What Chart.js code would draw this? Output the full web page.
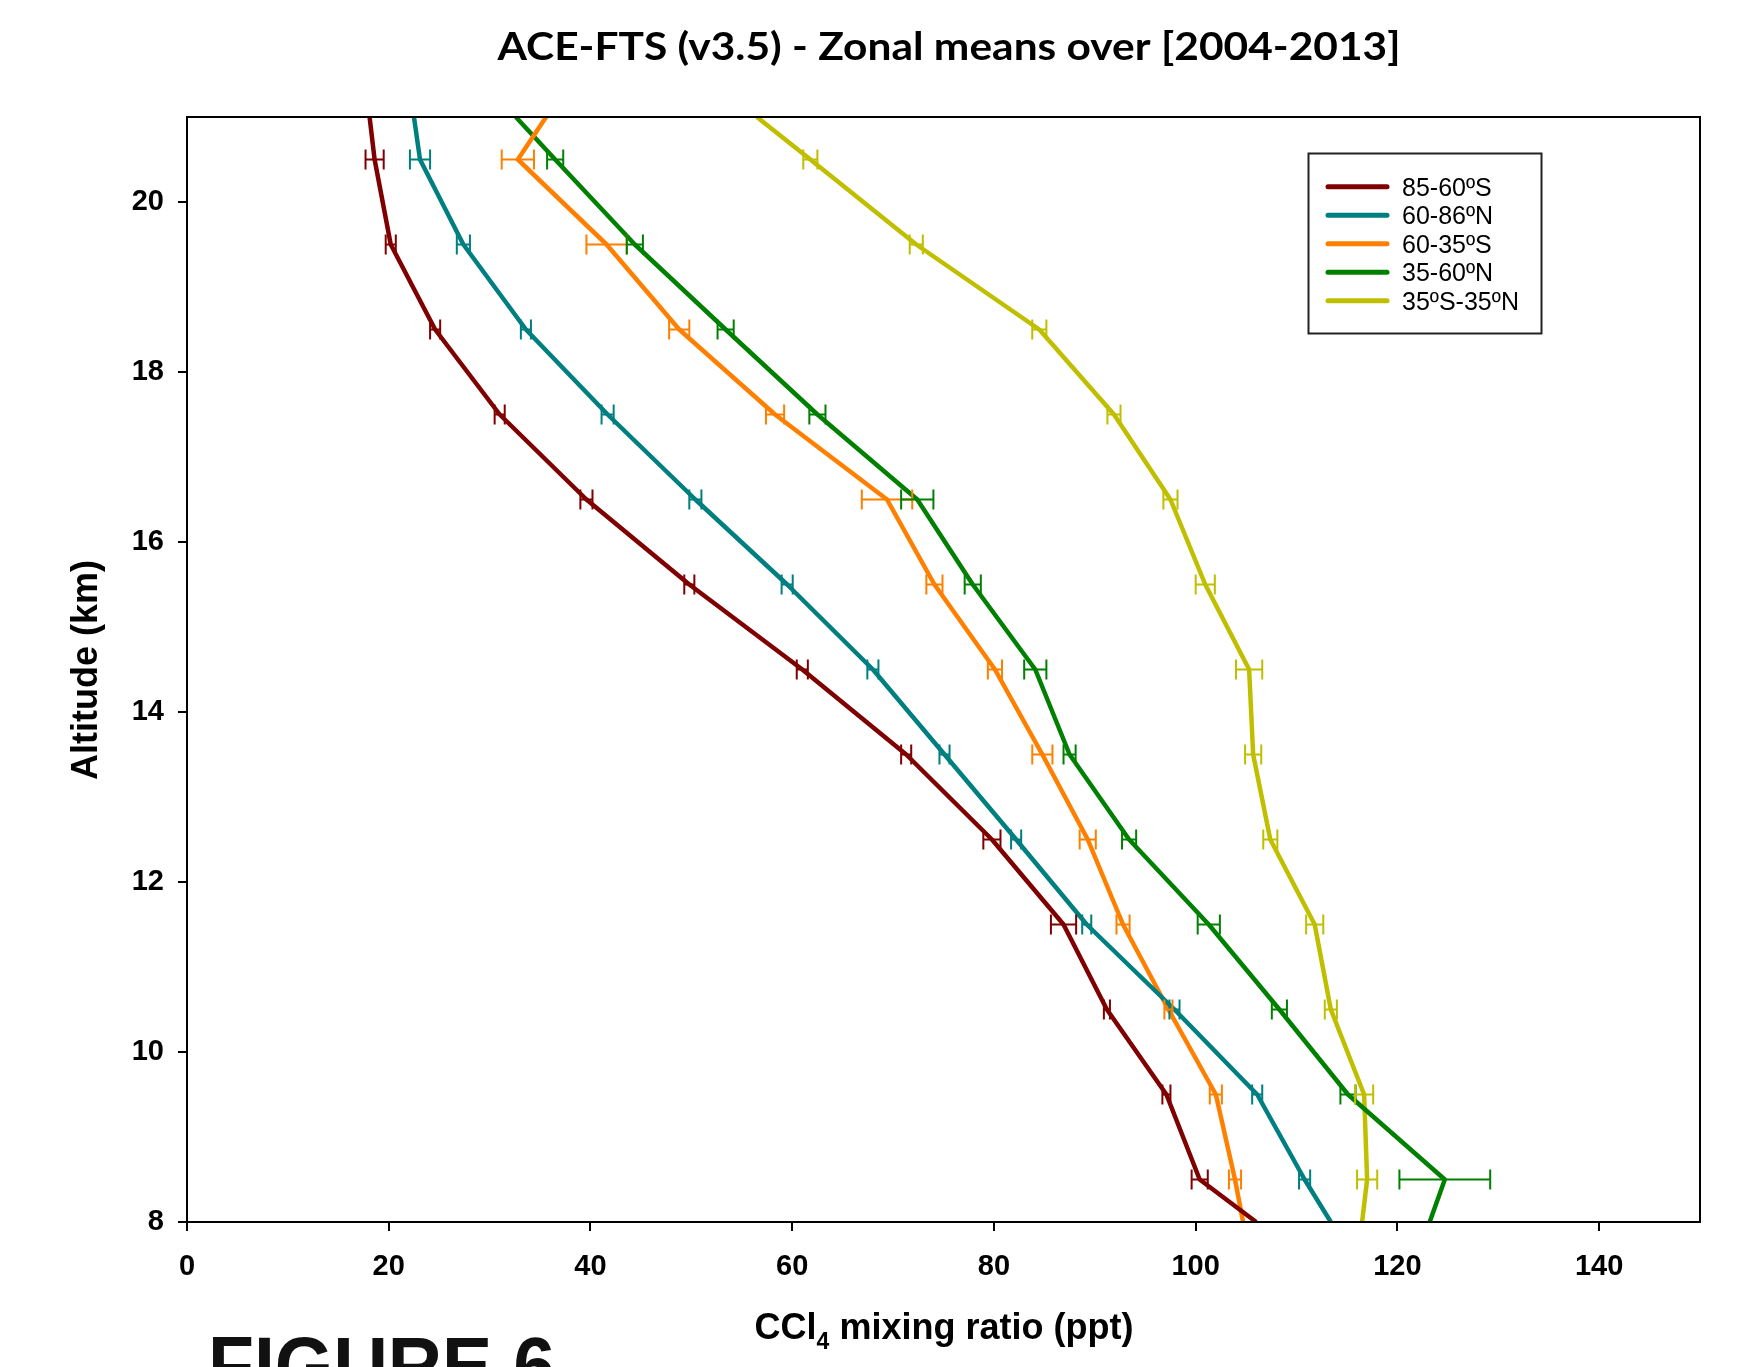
<!DOCTYPE html>
<html>
<head>
<meta charset="utf-8">
<title>ACE-FTS CCl4 zonal means</title>
<script src="https://cdn.jsdelivr.net/npm/chart.js@4.4.0/dist/chart.umd.min.js"></script>
<style>
    html, body { margin: 0; padding: 0; background: #fff; }
    canvas { display: block; }
</style>
</head>
<body>
<canvas id="perfil" width="1745" height="1367"></canvas>
<script>
// altitudes (km); first and last are where the profiles leave the frame
var altitudes = [8, 8.5, 9.5, 10.5, 11.5, 12.5, 13.5, 14.5, 15.5, 16.5, 17.5, 18.5, 19.5, 20.5, 21];

var labels = ['85-60ºS', '60-86ºN', '60-35ºS', '35-60ºN', '35ºS-35ºN'];
var colores = ['#7f0000', '#007f80', '#ff8000', '#008000', '#bfbf00'];

// CCl4 (ppt) and error bars (+/-)
var s85_60S = [106.0, 100.4, 97.1, 91.2, 86.9, 79.8, 71.3, 61.0, 49.8, 39.6, 31.0, 24.6, 20.2, 18.6, 18.1];
var e85_60S = [null, 0.8, 0.4, 0.3, 1.25, 0.85, 0.5, 0.55, 0.5, 0.6, 0.5, 0.5, 0.5, 0.9, null];

var s60_86N = [113.4, 110.8, 106.1, 97.9, 89.2, 82.2, 75.1, 68.0, 59.5, 50.4, 41.7, 33.6, 27.4, 23.1, 22.5];
var e60_86N = [null, 0.55, 0.5, 0.5, 0.45, 0.5, 0.5, 0.55, 0.55, 0.6, 0.6, 0.5, 0.65, 1.0, null];

var s60_35S = [104.7, 103.9, 102.0, 97.3, 92.8, 89.3, 84.8, 80.1, 74.1, 69.4, 58.3, 48.8, 41.6, 32.8, 35.6];
var e60_35S = [null, 0.6, 0.6, 0.4, 0.65, 0.8, 1.0, 0.7, 0.8, 2.5, 0.9, 1.0, 2.0, 1.6, null];

var s35_60N = [123.2, 124.7, 115.1, 108.3, 101.3, 93.4, 87.5, 84.1, 77.9, 72.4, 62.5, 53.4, 44.4, 36.5, 32.6];
var e35_60N = [null, 4.5, 0.75, 0.75, 1.1, 0.7, 0.6, 1.1, 0.8, 1.6, 0.8, 0.8, 0.8, 0.8, null];

var s35S_35N = [116.5, 117.0, 116.7, 113.4, 111.8, 107.4, 105.7, 105.3, 100.95, 97.5, 91.9, 84.5, 72.3, 61.8, 56.5];
var e35S_35N = [null, 1.0, 0.9, 0.6, 0.85, 0.7, 0.8, 1.3, 0.95, 0.7, 0.65, 0.7, 0.65, 0.7, null];

var series = [s85_60S, s60_86N, s60_35S, s35_60N, s35S_35N];
var errores = [e85_60S, e60_86N, e60_35S, e35_60N, e35S_35N];

var xTicks = [0, 20, 40, 60, 80, 100, 120, 140];
var yTicks = [8, 10, 12, 14, 16, 18, 20];

var fuenteEjes = '"Liberation Sans", Arial, sans-serif';

function armarDatasets() {
    var out = [];
    for (var i = 0; i < series.length; i++) {
        var puntos = [];
        for (var j = 0; j < altitudes.length; j++) {
            puntos.push({ x: series[i][j], y: altitudes[j] });
        }
        out.push({
            label: labels[i],
            data: puntos,
            errores: errores[i],
            borderColor: colores[i],
            backgroundColor: colores[i],
            borderWidth: 4.5,
            borderJoinStyle: 'round',
            pointRadius: 0,
            fill: false,
            tension: 0
        });
    }
    return out;
}

// horizontal error bars with caps
var barrasError = {
    id: 'barrasError',
    afterDatasetsDraw: function (chart) {
        var ctx = chart.ctx;
        var xs = chart.scales.x, ys = chart.scales.y;
        chart.data.datasets.forEach(function (ds) {
            ctx.save();
            ctx.strokeStyle = ds.borderColor;
            ctx.lineWidth = 2;
            ds.data.forEach(function (p, j) {
                var e = ds.errores[j];
                if (e == null) return;
                var x1 = xs.getPixelForValue(p.x - e);
                var x2 = xs.getPixelForValue(p.x + e);
                var y = ys.getPixelForValue(p.y);
                ctx.beginPath();
                ctx.moveTo(x1, y); ctx.lineTo(x2, y);
                ctx.moveTo(x1, y - 10); ctx.lineTo(x1, y + 10);
                ctx.moveTo(x2, y - 10); ctx.lineTo(x2, y + 10);
                ctx.stroke();
            });
            ctx.restore();
        });
    }
};

// frame, legend, titles
var decorado = {
    id: 'decorado',
    afterDraw: function (chart) {
        var ctx = chart.ctx;
        var a = chart.chartArea;
        ctx.save();
        ctx.strokeStyle = '#000';
        ctx.lineWidth = 2;
        ctx.strokeRect(a.left, a.top, a.right - a.left, a.bottom - a.top);

        // legend box
        ctx.strokeStyle = '#222';
        ctx.strokeRect(1308.5, 153.5, 233, 180);
        ctx.font = '25px ' + fuenteEjes;
        ctx.textBaseline = 'alphabetic';
        ctx.textAlign = 'left';
        chart.data.datasets.forEach(function (ds, i) {
            var y = 186.7 + i * 28.5;
            ctx.strokeStyle = ds.borderColor;
            ctx.lineWidth = 5;
            ctx.lineCap = 'round';
            ctx.beginPath();
            ctx.moveTo(1328, y); ctx.lineTo(1387, y);
            ctx.stroke();
            ctx.fillStyle = '#000';
            ctx.fillText(ds.label, 1402, y + 8.8);
        });

        // main title
        ctx.fillStyle = '#000';
        ctx.font = 'bold 39px Lato, "Open Sans", sans-serif';
        var titulo = 'ACE-FTS (v3.5) - Zonal means over [2004-2013]';
        var w = ctx.measureText(titulo).width;
        ctx.save();
        ctx.translate(949, 60);
        ctx.scale(903 / w, 1);
        ctx.textAlign = 'center';
        ctx.fillText(titulo, 0, 0);
        ctx.restore();

        // y axis title
        ctx.save();
        ctx.font = 'bold 36px ' + fuenteEjes;
        ctx.translate(97, 670);
        ctx.rotate(-Math.PI / 2);
        ctx.textAlign = 'center';
        ctx.fillText('Altitude (km)', 0, 0);
        ctx.restore();

        // x axis title with subscript
        var p1 = 'CCl', p2 = '4', p3 = ' mixing ratio (ppt)';
        ctx.font = 'bold 36px ' + fuenteEjes;
        var w1 = ctx.measureText(p1).width, w3 = ctx.measureText(p3).width;
        ctx.font = 'bold 23px ' + fuenteEjes;
        var w2 = ctx.measureText(p2).width;
        var x0 = 944 - (w1 + w2 + w3) / 2;
        ctx.textAlign = 'left';
        ctx.font = 'bold 36px ' + fuenteEjes;
        ctx.fillText(p1, x0, 1339);
        ctx.fillText(p3, x0 + w1 + w2, 1339);
        ctx.font = 'bold 23px ' + fuenteEjes;
        ctx.fillText(p2, x0 + w1, 1349);

        // figure label, cut by the bottom edge
        ctx.fillStyle = '#111';
        ctx.font = 'bold 82px ' + fuenteEjes;
        var wf = ctx.measureText('FIGURE 6').width;
        ctx.translate(208, 1394);
        ctx.scale(347 / wf, 1);
        ctx.fillText('FIGURE 6', 0, 0);
        ctx.restore();
    }
};

function pintarGrafico(destino) {
    var miCanvas = document.getElementById(destino).getContext('2d');
    return new Chart(miCanvas, {
        type: 'line',
        data: { datasets: armarDatasets() },
        options: {
            responsive: false,
            animation: false,
            layout: { padding: { top: 117, right: 45, left: 0, bottom: 0 } },
            plugins: {
                legend: { display: false },
                title: { display: false },
                tooltip: { enabled: false }
            },
            scales: {
                x: {
                    type: 'linear',
                    min: 0,
                    max: 150,
                    afterFit: function (s) { s.height = 145; },
                    afterBuildTicks: function (s) { s.ticks = xTicks.map(function (v) { return { value: v }; }); },
                    grid: { drawOnChartArea: false, drawTicks: true, tickLength: 9, color: '#000', lineWidth: 2 },
                    border: { display: true, color: '#000', width: 2 },
                    ticks: {
                        color: '#000',
                        padding: 19,
                        maxRotation: 0,
                        font: { family: fuenteEjes, size: 29, weight: 'bold' }
                    }
                },
                y: {
                    type: 'linear',
                    min: 8,
                    max: 21,
                    afterFit: function (s) { s.width = 187; },
                    afterBuildTicks: function (s) { s.ticks = yTicks.map(function (v) { return { value: v }; }); },
                    grid: { drawOnChartArea: false, drawTicks: true, tickLength: 9, color: '#000', lineWidth: 2 },
                    border: { display: true, color: '#000', width: 2 },
                    ticks: {
                        color: '#000',
                        padding: 14,
                        font: { family: fuenteEjes, size: 29, weight: 'bold' }
                    }
                }
            }
        },
        plugins: [barrasError, decorado]
    });
}

pintarGrafico('perfil');
</script>
</body>
</html>
